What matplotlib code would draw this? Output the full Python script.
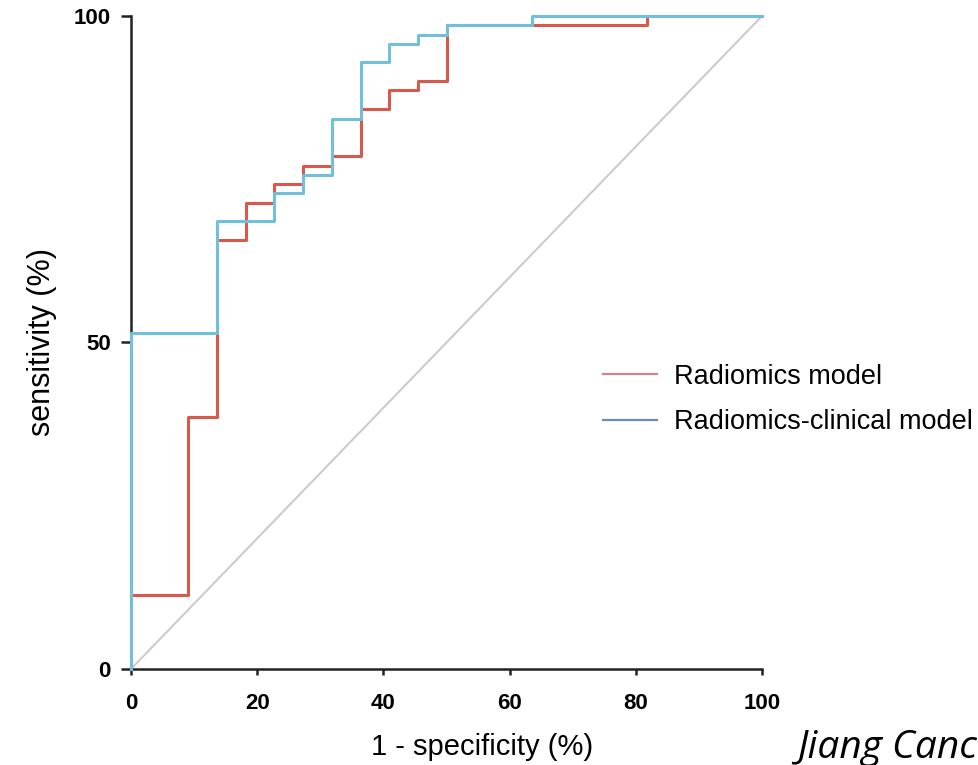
import matplotlib
matplotlib.use('Agg')
import matplotlib.pyplot as plt
from matplotlib.lines import Line2D

# ROC points (1 - specificity %, sensitivity %)
radiomics_fpr = [0, 0, 9.1, 13.6, 18.2, 22.7, 27.3, 31.8, 36.4, 40.9, 45.5, 50.0, 81.8, 100]
radiomics_tpr = [0, 11.4, 38.6, 65.7, 71.4, 74.3, 77.1, 78.6, 85.7, 88.6, 90.0, 98.6, 100, 100]

combined_fpr = [0, 0, 13.6, 22.7, 27.3, 31.8, 36.4, 40.9, 45.5, 50.0, 63.6, 100]
combined_tpr = [0, 51.4, 68.6, 72.9, 75.7, 84.3, 92.9, 95.7, 97.1, 98.6, 100, 100]

series_names = ['Radiomics model', 'Radiomics-clinical model']
x_ticks = [0, 20, 40, 60, 80, 100]
y_ticks = [0, 50, 100]


def main():
    plt.rcParams['font.family'] = ['Liberation Sans', 'DejaVu Sans']

    fig = plt.figure(figsize=(9.79, 7.65), dpi=100)
    ax = fig.add_axes([0.1338, 0.1255, 0.6446, 0.8536])

    # reference diagonal
    ax.plot([0, 100], [0, 100], color='#c9c9c9', lw=1.4, zorder=1)

    ax.step(radiomics_fpr, radiomics_tpr, where='post', color='#d9584c',
            lw=2.2, clip_on=False, zorder=3)
    ax.step(combined_fpr, combined_tpr, where='post', color='#70c0dc',
            lw=2.2, clip_on=False, zorder=4)

    ax.set_xlim(0, 100)
    ax.set_ylim(0, 100)

    for side in ('top', 'right'):
        ax.spines[side].set_visible(False)
    for side in ('left', 'bottom'):
        ax.spines[side].set_linewidth(1.8)
        ax.spines[side].set_color('#222222')

    ax.set_xticks(x_ticks)
    ax.set_yticks(y_ticks)
    ax.tick_params(axis='both', width=1.8, color='#222222', labelsize=16)
    ax.tick_params(axis='x', length=4.5, pad=13)
    ax.tick_params(axis='y', length=7.5, pad=7)
    for lbl in ax.get_xticklabels() + ax.get_yticklabels():
        lbl.set_fontweight('bold')

    ax.set_xlabel('1 - specificity (%)', fontsize=21)
    ax.xaxis.set_label_coords(0.556, -0.098)
    ax.set_ylabel('sensitivity (%)', fontsize=22, labelpad=12)

    handles = [Line2D([], [], color='#c98592', lw=1.6),
               Line2D([], [], color='#6a8fae', lw=1.6)]
    fig.legend(handles, series_names, loc='center left',
               bbox_to_anchor=(0.616, 0.478), frameon=False, fontsize=19.5,
               borderpad=0, borderaxespad=0, handlelength=2.0,
               handletextpad=0.62, labelspacing=0.72)

    fig.text(0.814, 0.009, 'Jiang Cancer Imaging', fontsize=28,
             style='italic', va='baseline',
             family=['Open Sans', 'DejaVu Sans'])

    fig.savefig('out.png', dpi=100)


if __name__ == '__main__':
    main()
